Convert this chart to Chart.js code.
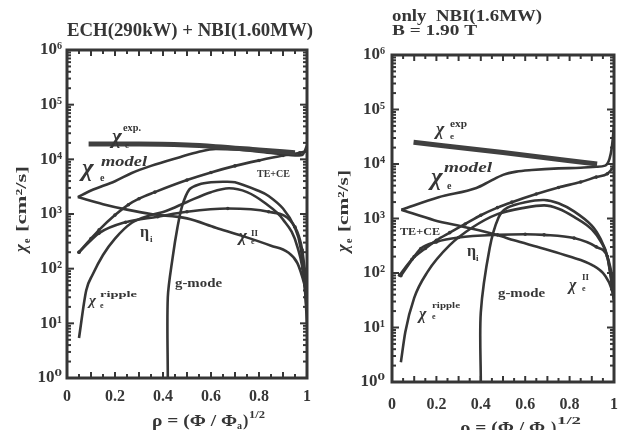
<!DOCTYPE html>
<html><head><meta charset="utf-8">
<script src="https://cdn.jsdelivr.net/npm/chart.js"></script>
<style>
html,body{margin:0;padding:0;background:#fff;}
#wrap{position:relative;width:631px;height:430px;overflow:hidden;background:#fff;}
canvas{position:absolute;top:0;}
#c1{left:0;width:320px;height:430px;}
#c2{left:320px;width:311px;height:430px;}
</style></head><body>
<div id="wrap"><canvas id="c1" width="320" height="430"></canvas><canvas id="c2" width="311" height="430"></canvas></div>
<script>
// ---------- tick labels ----------
const xTicks = [0, 0.2, 0.4, 0.6, 0.8, 1];
const yTicks = [1, 10, 100, 1000, 10000, 100000, 1000000];
const yTickText = ['10\u2070','10\u00b9','10\u00b2','10\u00b3','10\u2074','10\u2075','10\u2076'];

// ---------- left panel: ECH(290kW) + NBI(1.60MW) ----------
const L_exp_rho   = [0.09, 0.3, 0.5, 0.62, 0.8, 0.95];
const L_exp_chi   = [19000, 19000, 18200, 17000, 14800, 13200];
const L_model_rho = [0.045, 0.1, 0.2, 0.27, 0.35, 0.47, 0.55, 0.62, 0.7, 0.8, 0.9, 0.95, 0.98, 1.0];
const L_model_chi = [2040, 2690, 3980, 5620, 7590, 10960, 13800, 15500, 15100, 13800, 12300, 11750, 12000, 17800];
const L_tece_rho  = [0.05, 0.1, 0.134, 0.2, 0.256, 0.3, 0.366, 0.5, 0.6, 0.7, 0.8, 0.9, 0.97, 1.0];
const L_tece_chi  = [200, 355, 513, 955, 1480, 1905, 2510, 4170, 5750, 7590, 9550, 11750, 13200, 14100];
const L_etai_rho  = [0.05, 0.134, 0.244, 0.378, 0.5, 0.67, 0.84, 0.95, 0.98, 1.0];
const L_etai_chi  = [200, 447, 708, 891, 1096, 1259, 1096, 575, 219, 40];
const L_rip_rho   = [0.05, 0.08, 0.107, 0.15, 0.2, 0.27, 0.35, 0.41, 0.5, 0.6, 0.675, 0.75, 0.825, 0.9, 0.96, 0.99, 1.0];
const L_rip_chi   = [5.4, 40, 78, 178, 355, 692, 955, 1122, 1660, 2510, 2950, 2510, 1585, 794, 251, 50, 10];
const L_gm_rho    = [0.42, 0.42, 0.44, 0.46, 0.48, 0.51, 0.55, 0.6, 0.65, 0.7, 0.8, 0.84, 0.9, 0.95, 0.975, 1.0];
const L_gm_chi    = [1, 30, 158, 562, 1413, 2818, 3467, 3802, 3890, 3802, 2630, 2138, 1259, 562, 224, 16];
const L_ii_rho    = [0.045, 0.15, 0.25, 0.35, 0.5, 0.62, 0.73, 0.85, 0.92, 0.96, 0.99, 1.0];
const L_ii_chi    = [2040, 1514, 1202, 1000, 832, 562, 398, 263, 200, 126, 50, 32];

// ---------- right panel: only NBI(1.6MW), B = 1.90 T ----------
const R_exp_rho   = [0.097, 0.5, 0.924];
const R_exp_chi   = [25100, 16200, 10000];
const R_model_rho = [0.042, 0.21, 0.38, 0.44, 0.5, 0.56, 0.63, 0.75, 0.85, 0.92, 0.96, 0.98, 0.99, 1.0];
const R_model_chi = [1445, 2455, 3630, 4790, 6310, 7240, 7760, 8320, 8510, 8910, 9330, 12600, 20000, 50100];
const R_tece_rho  = [0.034, 0.09, 0.15, 0.2, 0.26, 0.33, 0.4, 0.475, 0.54, 0.65, 0.75, 0.85, 0.92, 0.97, 1.0];
const R_tece_chi  = [91, 178, 282, 398, 550, 794, 1148, 1585, 1995, 2818, 3715, 4677, 5754, 6607, 8913];
const R_etai_rho  = [0.04, 0.1, 0.13, 0.2, 0.3, 0.475, 0.6, 0.685, 0.82, 0.92, 0.97, 1.0];
const R_etai_chi  = [89, 200, 282, 372, 447, 501, 513, 501, 437, 302, 200, 63];
const R_rip_rho   = [0.04, 0.06, 0.1, 0.16, 0.26, 0.36, 0.475, 0.6, 0.685, 0.75, 0.82, 0.9, 0.94, 0.97, 1.0];
const R_rip_chi   = [2.3, 8.3, 35, 105, 324, 676, 1202, 1585, 1738, 1514, 1072, 631, 380, 200, 32];
const R_gm_rho    = [0.4, 0.4, 0.44, 0.48, 0.52, 0.6, 0.685, 0.75, 0.82, 0.9, 0.94, 0.97, 1.0];
const R_gm_chi    = [1, 19, 288, 1047, 1585, 1995, 2188, 1905, 1349, 741, 417, 200, 40];
const R_ii_rho    = [0.042, 0.19, 0.33, 0.47, 0.55, 0.68, 0.8, 0.9, 0.96, 0.99, 1.0];
const R_ii_chi    = [1445, 933, 692, 501, 398, 282, 200, 141, 89, 50, 32];

// ---------- styling ----------
const INK = '#363636';
const FONT = '"Liberation Serif", "DejaVu Serif", serif';

function ds(r, v, o) {
  return Object.assign({
    data: r.map((x, i) => ({ x: x, y: v[i] })),
    borderColor: INK, backgroundColor: INK, pointBackgroundColor: INK,
    borderWidth: 2.6, pointRadius: 0, pointBorderWidth: 0,
    cubicInterpolationMode: 'monotone', fill: false
  }, o || {});
}
const beads = { pointRadius: 1.8 };
const thick = { borderWidth: 5, borderColor: '#404040' };
const bez = { cubicInterpolationMode: 'default', tension: 0.3 };

function drawItem(ctx, it) {
  ctx.font = it.f + ' ' + FONT;
  if (it.w) {
    const m = ctx.measureText(it.t).width;
    ctx.save(); ctx.translate(it.x, it.y); ctx.scale(it.w / m, 1);
    ctx.fillText(it.t, 0, 0); ctx.restore();
  } else ctx.fillText(it.t, it.x, it.y);
}

function panelPlugin(cfg) {
  return {
    id: 'panelDeco',
    afterDraw(chart) {
      const ctx = chart.ctx, a = chart.chartArea, xs = chart.scales.x, ys = chart.scales.y;
      ctx.save();
      ctx.strokeStyle = INK; ctx.fillStyle = INK; ctx.lineCap = 'butt';
      const ln = (x1, y1, x2, y2) => { ctx.beginPath(); ctx.moveTo(x1, y1); ctx.lineTo(x2, y2); ctx.stroke(); };
      // inward ticks
      ctx.lineWidth = 2;
      for (let i = 1; i < 20; i++) {
        const px = xs.getPixelForValue(i / 20);
        const L = (i % 2 === 0) ? 6 : 4;
        ln(px, a.bottom, px, a.bottom - L); ln(px, a.top, px, a.top + L);
      }
      for (let n = 0; n < 6; n++) for (let m = 1; m < 10; m++) {
        const v = m * Math.pow(10, n);
        if (v <= 1) continue;
        const py = ys.getPixelForValue(v);
        const L = m === 1 ? 7 : 4;
        ln(a.left, py, a.left + L, py); ln(a.right, py, a.right - L, py);
      }
      // frame
      ctx.lineWidth = 3;
      ctx.strokeRect(a.left, a.top, a.right - a.left, a.bottom - a.top);
      // texts
      ctx.textBaseline = 'alphabetic'; ctx.textAlign = 'left';
      cfg.items.forEach(it => drawItem(ctx, it));
      // rotated y title
      ctx.save();
      ctx.translate(cfg.yTitle.x, cfg.yTitle.y); ctx.rotate(-Math.PI / 2);
      cfg.yTitle.items.forEach(it => drawItem(ctx, it));
      ctx.restore();
      ctx.restore();
    }
  };
}

function makeChart(id, datasets, lay, cfg) {
  return new Chart(document.getElementById(id), {
    type: 'line',
    data: { datasets: datasets },
    options: {
      responsive: false, animation: false, devicePixelRatio: 1, events: [],
      layout: { padding: lay.pad },
      plugins: { legend: { display: false }, tooltip: { enabled: false }, title: { display: false } },
      scales: {
        x: {
          type: 'linear', min: 0, max: 1,
          afterBuildTicks: s => { s.ticks = xTicks.map(v => ({ value: v })); },
          afterFit: s => { s.height = lay.xH; },
          grid: { display: false, drawTicks: false }, border: { display: false },
          ticks: {
            padding: lay.xPad, color: INK, maxRotation: 0, autoSkip: false,
            font: { family: FONT, size: 16, weight: 'bold' },
            callback: v => (v === 0 || v === 1) ? String(v) : v.toFixed(1)
          }
        },
        y: {
          type: 'logarithmic', min: 1, max: 1e6,
          afterBuildTicks: s => { s.ticks = yTicks.map(v => ({ value: v, major: true })); },
          afterFit: s => { s.width = lay.yW; },
          grid: { display: false, drawTicks: false }, border: { display: false },
          ticks: {
            padding: lay.yPad, color: INK, autoSkip: false,
            font: { family: FONT, size: 17, weight: 'bold' },
            callback: v => yTickText[yTicks.indexOf(v)]
          }
        }
      }
    },
    plugins: [panelPlugin(cfg)]
  });
}

// ---------- left chart ----------
makeChart('c1', [
  ds(L_exp_rho, L_exp_chi, thick),
  ds(L_model_rho, L_model_chi),
  ds(L_tece_rho, L_tece_chi, beads),
  ds(L_etai_rho, L_etai_chi, beads),
  ds(L_rip_rho, L_rip_chi),
  ds(L_gm_rho, L_gm_chi, bez),
  ds(L_ii_rho, L_ii_chi)
], { pad: { left: 0, right: 7, top: 50, bottom: 0 }, yW: 67, xH: 52, yPad: 5, xPad: 9 }, {
  items: [
    { t: 'ECH(290kW) + NBI(1.60MW)', x: 67, y: 36, f: 'bold 18px', w: 246 },
    { t: '\u03c7', x: 112, y: 143, f: 'bold italic 21px' },
    { t: 'e', x: 125, y: 148, f: 'bold 9px' },
    { t: 'exp.', x: 123, y: 131, f: 'bold 11px', w: 18 },
    { t: '\u03c7', x: 82, y: 176, f: 'bold italic 25px' },
    { t: 'e', x: 100, y: 181, f: 'bold 10px' },
    { t: 'model', x: 101, y: 166, f: 'bold italic 15px', w: 46 },
    { t: 'TE+CE', x: 257, y: 177, f: 'bold 10px', w: 33 },
    { t: '\u03b7', x: 140, y: 237, f: 'bold 16px' },
    { t: 'i', x: 150, y: 242, f: 'bold 9px' },
    { t: '\u03c7', x: 239, y: 241, f: 'bold italic 17px' },
    { t: 'II', x: 251, y: 236, f: 'bold 9px' },
    { t: 'e', x: 251, y: 244, f: 'bold 8px' },
    { t: 'g-mode', x: 175, y: 287, f: 'bold 12px', w: 47 },
    { t: '\u03c7', x: 89, y: 305, f: 'bold italic 15px' },
    { t: 'ripple', x: 100, y: 297, f: 'bold 9px', w: 37 },
    { t: 'e', x: 100, y: 308, f: 'bold 8px' },
    { t: '\u03c1 = (\u03a6 / \u03a6', x: 152, y: 426, f: 'bold 16px', w: 85 },
    { t: 'a', x: 237, y: 429, f: 'bold 10px' },
    { t: ')', x: 243, y: 426, f: 'bold 16px' },
    { t: '1/2', x: 249, y: 418, f: 'bold 11px', w: 16 }
  ],
  yTitle: { x: 26, y: 252, items: [
    { t: '\u03c7', x: 0, y: 0, f: 'bold italic 17px' },
    { t: 'e', x: 9, y: 4, f: 'bold 10px' },
    { t: '[cm\u00b2/s]', x: 20, y: 0, f: 'bold 15px', w: 66 }
  ] }
});

// ---------- right chart ----------
makeChart('c2', [
  ds(R_exp_rho, R_exp_chi, thick),
  ds(R_model_rho, R_model_chi),
  ds(R_tece_rho, R_tece_chi, beads),
  ds(R_etai_rho, R_etai_chi, beads),
  ds(R_rip_rho, R_rip_chi),
  ds(R_gm_rho, R_gm_chi, bez),
  ds(R_ii_rho, R_ii_chi)
], { pad: { left: 0, right: 1, top: 55, bottom: 0 }, yW: 72, xH: 48, yPad: 7, xPad: 13 }, {
  items: [
    { t: 'only  NBI(1.6MW)', x: 72, y: 21, f: 'bold 16px', w: 150 },
    { t: 'B = 1.90 T', x: 72, y: 35, f: 'bold 14px', w: 85 },
    { t: '\u03c7', x: 116, y: 135, f: 'bold italic 18px' },
    { t: 'e', x: 130, y: 139, f: 'bold 9px' },
    { t: 'exp', x: 130, y: 127, f: 'bold 10px', w: 17 },
    { t: '\u03c7', x: 111, y: 185, f: 'bold italic 25px' },
    { t: 'e', x: 127, y: 189, f: 'bold 10px' },
    { t: 'model', x: 124, y: 172, f: 'bold italic 15px', w: 48 },
    { t: 'TE+CE', x: 80, y: 235, f: 'bold 11px', w: 40 },
    { t: '\u03b7', x: 147, y: 256, f: 'bold 16px' },
    { t: 'i', x: 156, y: 261, f: 'bold 9px' },
    { t: 'g-mode', x: 178, y: 297, f: 'bold 12px', w: 47 },
    { t: '\u03c7', x: 99, y: 319, f: 'bold italic 16px' },
    { t: 'ripple', x: 112, y: 308, f: 'bold 9px', w: 28 },
    { t: 'e', x: 112, y: 319, f: 'bold 8px' },
    { t: '\u03c7', x: 249, y: 290, f: 'bold italic 16px' },
    { t: 'II', x: 262, y: 280, f: 'bold 9px' },
    { t: 'e', x: 262, y: 291, f: 'bold 8px' },
    { t: '\u03c1 = (\u03a6 / \u03a6', x: 140, y: 433, f: 'bold 16px', w: 85 },
    { t: 'a', x: 225, y: 436, f: 'bold 10px' },
    { t: ')', x: 231, y: 433, f: 'bold 16px' },
    { t: '1/2', x: 237, y: 424, f: 'bold 11px', w: 24 }
  ],
  yTitle: { x: 28, y: 252, items: [
    { t: '\u03c7', x: 0, y: 0, f: 'bold italic 17px' },
    { t: 'e', x: 9, y: 4, f: 'bold 10px' },
    { t: '[cm\u00b2/s]', x: 20, y: 0, f: 'bold 15px', w: 62 }
  ] }
});
</script>
</body></html>
